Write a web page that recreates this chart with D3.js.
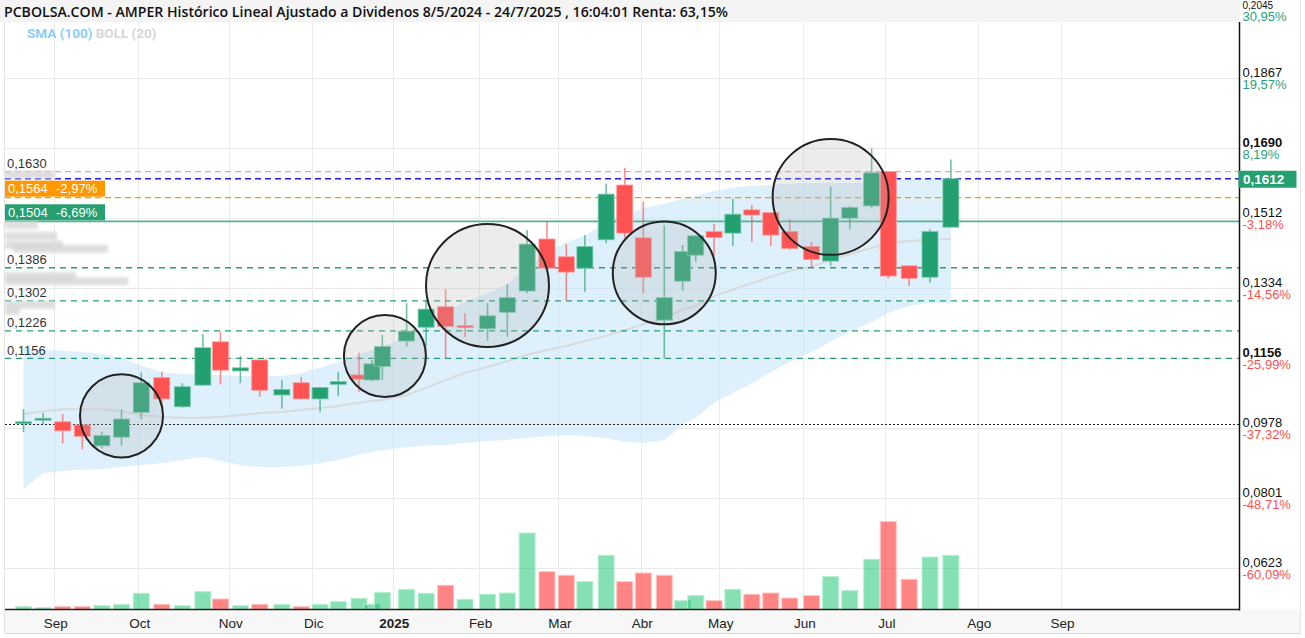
<!DOCTYPE html>
<html><head><meta charset="utf-8">
<script src="https://cdn.jsdelivr.net/npm/d3@7"></script>
<style>body{margin:0;background:#fff}svg{display:block}</style>
</head><body>
<svg id="c" width="1305" height="638"></svg>
<script>
// ---------------- DATA ----------------
const dates = ["2024-08-21","2024-08-28","2024-09-04","2024-09-11","2024-09-18","2024-09-25","2024-10-02","2024-10-09","2024-10-16","2024-10-23","2024-10-29","2024-11-05","2024-11-12","2024-11-20","2024-11-27","2024-12-04","2024-12-11","2024-12-19","2024-12-24","2024-12-28","2025-01-06","2025-01-13","2025-01-20","2025-01-27","2025-02-04","2025-02-11","2025-02-18","2025-02-25","2025-03-04","2025-03-11","2025-03-19","2025-03-26","2025-04-02","2025-04-10","2025-04-17","2025-04-22","2025-04-29","2025-05-06","2025-05-13","2025-05-20","2025-05-27","2025-06-04","2025-06-11","2025-06-18","2025-06-26","2025-07-02","2025-07-09","2025-07-16","2025-07-23"];
const open  = [0.0991,0.1002,0.0995,0.0987,0.0934,0.0956,0.1019,0.1107,0.1033,0.1088,0.1198,0.1124,0.1152,0.1063,0.1094,0.1053,0.1090,0.1114,0.1101,0.1135,0.1200,0.1235,0.1287,0.1239,0.1231,0.1273,0.1327,0.1459,0.1414,0.1385,0.1457,0.1596,0.1462,0.1253,0.1352,0.1418,0.1478,0.1474,0.1533,0.1526,0.1478,0.1440,0.1403,0.1512,0.1543,0.1630,0.1391,0.1362,0.1489];
const high  = [0.1027,0.1018,0.1014,0.0988,0.0970,0.1027,0.1120,0.1122,0.1093,0.1218,0.1224,0.1162,0.1152,0.1101,0.1109,0.1082,0.1122,0.1170,0.1152,0.1215,0.1296,0.1304,0.1331,0.1270,0.1296,0.1344,0.1482,0.1503,0.1446,0.1469,0.1600,0.1639,0.1554,0.1493,0.1444,0.1468,0.1497,0.1561,0.1545,0.1526,0.1509,0.1452,0.1592,0.1543,0.1689,0.1630,0.1391,0.1484,0.1661];
const low   = [0.0969,0.0989,0.0940,0.0925,0.0928,0.0934,0.1001,0.1025,0.1031,0.1086,0.1090,0.1093,0.1059,0.1029,0.1052,0.1019,0.1060,0.1071,0.1098,0.1101,0.1186,0.1187,0.1156,0.1210,0.1201,0.1211,0.1321,0.1383,0.1303,0.1325,0.1448,0.1461,0.1321,0.1156,0.1327,0.1401,0.1414,0.1441,0.1452,0.1441,0.1431,0.1386,0.1391,0.1484,0.1537,0.1359,0.1340,0.1348,0.1488];
const close = [0.0995,0.1004,0.0972,0.0958,0.0960,0.1002,0.1094,0.1053,0.1084,0.1183,0.1126,0.1132,0.1075,0.1077,0.1053,0.1082,0.1097,0.1103,0.1142,0.1186,0.1225,0.1281,0.1237,0.1238,0.1264,0.1310,0.1446,0.1385,0.1375,0.1440,0.1573,0.1474,0.1362,0.1310,0.1427,0.1467,0.1463,0.1522,0.1520,0.1469,0.1435,0.1407,0.1512,0.1539,0.1627,0.1365,0.1359,0.1478,0.1612];
// weekly volume (millions of shares, estimated)
const volume = [2.7,1.7,2.7,2.7,3.7,5,16,5,3.7,17.7,10.3,3.7,5,5,2.7,5,7.7,11,5,17,20,16,24,10,15,16.3,76.3,37.7,34,27.7,54,27.7,36.3,34,8.7,13.7,8.7,20,15,16.3,11.3,13.7,32.7,18.7,50,87.7,30,52.3,54];
const bollUpper = [0.1182,0.1177,0.1175,0.1172,0.1167,0.1157,0.1137,0.1121,0.1116,0.1114,0.1114,0.1111,0.1111,0.1111,0.1119,0.1132,0.1147,0.1165,0.1177,0.1187,0.1210,0.1241,0.1274,0.1299,0.1322,0.1345,0.1385,0.1426,0.1451,0.1467,0.1502,0.1523,0.1538,0.1548,0.1561,0.1568,0.1581,0.1589,0.1594,0.1596,0.1599,0.1601,0.1601,0.1601,0.1604,0.1609,0.1611,0.1614,0.1614];
const bollMid   = [0.1015,0.1022,0.1027,0.1027,0.1027,0.1022,0.1012,0.1007,0.1005,0.1005,0.1007,0.1012,0.1017,0.1020,0.1025,0.1030,0.1035,0.1043,0.1048,0.1050,0.1063,0.1081,0.1101,0.1119,0.1134,0.1149,0.1165,0.1177,0.1187,0.1200,0.1213,0.1228,0.1243,0.1259,0.1279,0.1289,0.1314,0.1330,0.1347,0.1363,0.1378,0.1388,0.1406,0.1421,0.1436,0.1449,0.1454,0.1457,0.1459];
const bollLower = [0.0824,0.0865,0.0870,0.0873,0.0875,0.0880,0.0885,0.0890,0.0898,0.0906,0.0895,0.0885,0.0880,0.0880,0.0883,0.0890,0.0898,0.0911,0.0918,0.0923,0.0931,0.0934,0.0936,0.0941,0.0946,0.0949,0.0954,0.0959,0.0961,0.0959,0.0954,0.0944,0.0941,0.0949,0.0987,0.1005,0.1043,0.1068,0.1093,0.1121,0.1147,0.1172,0.1198,0.1223,0.1248,0.1271,0.1289,0.1297,0.1297];

const priceTicks = [0.2045,0.1867,0.1690,0.1512,0.1334,0.1156,0.0978,0.0801,0.0623];
const pctLabels  = ["30,95%","19,57%","8,19%","-3,18%","-14,56%","-25,99%","-37,32%","-48,71%","-60,09%"];
const monthTicks  = ["2024-09-01","2024-10-01","2024-11-01","2024-12-01","2025-01-01","2025-02-01","2025-03-01","2025-04-01","2025-05-01","2025-06-01","2025-07-01","2025-08-01","2025-09-01"];
const monthLabels = ["Sep","Oct","Nov","Dic","2025","Feb","Mar","Abr","May","Jun","Jul","Ago","Sep"];

const maxLevel = 0.1630;
const orangeLevel = 0.1564;
const greenLevel = 0.1504;
const supportLevels = [0.1386,0.1302,0.1226,0.1156];
const baseLevel = 0.0988;   // start price for "Renta: 63,15%"
const hiddenLabelPrices = [0.1622,0.1495,0.1467,0.1444,0.1434,0.1365,0.1352,0.1292,0.1276];

const circleDates  = ["2024-09-25","2024-12-29","2025-02-04","2025-04-10","2025-06-11"];
const circlePrices = [0.1010,0.1162,0.1341,0.1373,0.1566];
const circleSpans  = [0.01054,0.01041,0.01561,0.01307,0.01472];

const titleText = "PCBOLSA.COM - AMPER Histórico Lineal Ajustado a Dividenos 8/5/2024 - 24/7/2025 , 16:04:01 Renta: 63,15%";

// ---------------- LAYOUT ----------------
const PL = 5, PR = 1239.5, PT = 22, PB = 609.5;
const parse = d3.timeParse("%Y-%m-%d");
const anchorDates = ["2024-08-01", ...monthTicks, "2025-10-01"].map(parse);
const anchorPx = [-32.5,54.3,138.3,229.3,312.3,392.7,479,558.3,640.7,719.3,803.3,885.3,977.7,1061,1144];
const x = d3.scaleTime().domain(anchorDates).range(anchorPx);
const y = d3.scaleLinear().domain([0.0623,0.1867]).range([568.3,78.3]);
const yv = d3.scaleLinear().domain([0,100]).range([609.3,509.3]);
const fmt = v => d3.format(".4f")(v).replace(".", ",");
const GREEN = "#23a071", RED = "#ff5252";
const FONT = "'Liberation Sans', Arial, sans-serif";

const data = dates.map((d,i)=>({date:parse(d),o:open[i],h:high[i],l:low[i],c:close[i],v:volume[i],
  up:close[i]>=open[i], vup: i===0 ? close[i]>=open[i] : close[i]>=close[i-1],
  bu:bollUpper[i],bm:bollMid[i],bl:bollLower[i]}));
const last = close[close.length-1];

const svg = d3.select("#c");
const defs = svg.append("defs");
defs.append("clipPath").attr("id","plot").append("rect")
  .attr("x",PL).attr("y",PT).attr("width",PR-PL).attr("height",PB-PT);
defs.append("filter").attr("id","blur").append("feGaussianBlur").attr("stdDeviation",1.6);

// backgrounds
svg.append("rect").attr("width",1305).attr("height",638).attr("fill","#fff");
svg.append("rect").attr("x",0).attr("y",0).attr("width",PR).attr("height",PT).attr("fill","#f4f4f4");
svg.append("rect").attr("x",PL).attr("y",PB).attr("width",1300-PL).attr("height",24).attr("fill","#f7f7f7");
svg.append("line").attr("x1",PL).attr("x2",1300).attr("y1",633.5).attr("y2",633.5).attr("stroke","#dcdcdc");
svg.append("line").attr("x1",1300.5).attr("x2",1300.5).attr("y1",0).attr("y2",634).attr("stroke","#e6e6e6");
svg.append("line").attr("x1",PL-0.5).attr("x2",PL-0.5).attr("y1",PT).attr("y2",634).attr("stroke","#e3e3e3");

const plot = svg.append("g").attr("clip-path","url(#plot)");

// grid
plot.selectAll("line.hg").data(priceTicks).join("line").attr("class","hg")
  .attr("x1",PL).attr("x2",PR).attr("y1",d=>Math.round(y(d))+0.5).attr("y2",d=>Math.round(y(d))+0.5)
  .attr("stroke","#e9e9e9");
plot.selectAll("line.vg").data(monthTicks).join("line").attr("class","vg")
  .attr("x1",d=>Math.round(x(parse(d)))+0.5).attr("x2",d=>Math.round(x(parse(d)))+0.5)
  .attr("y1",PT).attr("y2",PB).attr("stroke","#ebebeb");

// bollinger band
plot.append("path").datum(data)
  .attr("d", d3.area().x(d=>x(d.date)).y0(d=>y(d.bl)).y1(d=>y(d.bu)))
  .attr("fill","#c9e7fa").attr("fill-opacity",0.62);
plot.append("path").datum(data)
  .attr("d", d3.line().x(d=>x(d.date)).y(d=>y(d.bm)))
  .attr("fill","none").attr("stroke","#d6d6d6").attr("stroke-width",2).attr("stroke-opacity",0.8);

// volume
plot.selectAll("rect.vol").data(data).join("rect").attr("class","vol")
  .attr("x",d=>x(d.date)-8).attr("width",16)
  .attr("y",d=>yv(d.v)).attr("height",d=>yv(0)-yv(d.v))
  .attr("fill",d=>d.vup?"#00c060":"#ff0000").attr("fill-opacity",0.48)
  .attr("stroke",d=>d.vup?"#b8f0d4":"#ffc4c4").attr("stroke-width",1);

// level lines
const hline = (v,color,dash,w)=>plot.append("line").attr("x1",PL).attr("x2",PR)
  .attr("y1",y(v)).attr("y2",y(v)).attr("stroke",color).attr("stroke-width",w)
  .attr("stroke-dasharray",dash);
hline(maxLevel,"#ff9c9c","6,4",1.3);
hline(last,"#1a1aff","6,4",1.3);
hline(orangeLevel,"#ff9800","6,4",1.4);
hline(greenLevel,"#52b48f",null,1.8);
supportLevels.forEach(v=>hline(v,"#2a9d74","6,5",1.3));
hline(baseLevel,"#222","2,2",1.1);

// candles
const cg = plot.selectAll("g.candle").data(data).join("g").attr("class","candle");
cg.append("line").attr("x1",d=>x(d.date)).attr("x2",d=>x(d.date))
  .attr("y1",d=>y(d.h)).attr("y2",d=>y(d.l))
  .attr("stroke",d=>d.up?GREEN:RED).attr("stroke-width",1.6).attr("stroke-opacity",0.65);
cg.append("rect").attr("x",d=>x(d.date)-8).attr("width",16)
  .attr("y",d=>y(Math.max(d.o,d.c)))
  .attr("height",d=>Math.max(2,Math.abs(y(d.o)-y(d.c))))
  .attr("fill",d=>d.up?GREEN:RED)
  .attr("stroke",d=>d.up?"#7cc9ad":"#ff9a9a").attr("stroke-width",0.8);

// pattern circles
plot.selectAll("circle.ann").data(circleDates).join("circle").attr("class","ann")
  .attr("cx",(d,i)=>x(parse(d))).attr("cy",(d,i)=>y(circlePrices[i]))
  .attr("r",(d,i)=>y(circlePrices[i]-circleSpans[i])-y(circlePrices[i]))
  .attr("fill","#b4b4b4").attr("fill-opacity",0.25)
  .attr("stroke","#222").attr("stroke-width",2);

// blurred hidden labels on the left
const hw = [50,33,52,58,95,71,123,50,15];
svg.append("g").attr("filter","url(#blur)").selectAll("rect").data(hiddenLabelPrices).join("rect")
  .attr("x",(d,i)=>i===4?13:5).attr("y",d=>y(d)-4).attr("width",(d,i)=>hw[i]).attr("height",8)
  .attr("fill","#d6d6d6").attr("fill-opacity",0.8);

// left labels
const leftVals = [maxLevel, ...supportLevels];
svg.selectAll("text.ll").data(leftVals).join("text").attr("class","ll")
  .attr("x",7).attr("y",d=>y(d)-3.5).text(fmt)
  .attr("font-family",FONT).attr("font-size",13).attr("fill","#333");
const pctTrunc = v => (Math.trunc((v/last-1)*10000)/100).toFixed(2).replace(".",",")+"%";
[[orangeLevel,"#ff9800"],[greenLevel,"#26a071"]].forEach(([v,col])=>{
  const yb = y(v);
  svg.append("rect").attr("x",5).attr("y",yb-17).attr("width",100).attr("height",16).attr("fill",col);
  svg.append("text").attr("x",8).attr("y",yb-4.5).text(fmt(v))
    .attr("font-family",FONT).attr("font-size",13).attr("fill","#fff");
  svg.append("text").attr("x",56).attr("y",yb-4.5).text(pctTrunc(v))
    .attr("font-family",FONT).attr("font-size",13).attr("fill","#fff");
});

// axes lines
svg.append("line").attr("x1",PR).attr("x2",PR).attr("y1",PT).attr("y2",PB+1).attr("stroke","#111").attr("stroke-width",1.5);
svg.append("line").attr("x1",PL).attr("x2",PR).attr("y1",PB).attr("y2",PB).attr("stroke","#222").attr("stroke-width",1.5);

// right axis
const topTick = priceTicks[0];
const ya = svg.append("g").attr("transform",`translate(${PR},0)`)
  .call(d3.axisRight(y).tickValues(priceTicks).tickSize(0).tickPadding(3).tickFormat(fmt));
ya.select(".domain").remove();
ya.selectAll(".tick text").attr("dy",d=>d===topTick?0:-2).attr("font-family",FONT)
  .attr("font-size",d=>d===topTick?10:13)
  .attr("fill","#111").attr("font-weight",d=>(d===0.1690||d===0.1156)?"bold":"normal");
ya.selectAll(".tick").append("text").attr("x",3).attr("dy",d=>d===topTick?12.5:10.5)
  .text((d,i)=>pctLabels[i]).attr("font-family",FONT).attr("font-size",13)
  .attr("fill",d=>d>last*0.97?"#27a27a":"#ff5050").attr("text-anchor","start");
ya.selectAll(".tick text").attr("text-anchor","start");

// last price tag
svg.append("rect").attr("x",PR-1).attr("y",y(last)-8).attr("width",58).attr("height",17).attr("fill","#26a071");
svg.append("text").attr("x",PR+3.5).attr("y",y(last)+5).text(fmt(last))
  .attr("font-family",FONT).attr("font-size",13.5).attr("font-weight","bold").attr("fill","#fff");

// bottom axis
const xa = svg.append("g").attr("transform",`translate(1,${PB})`)
  .call(d3.axisBottom(x).tickValues(monthTicks.map(parse)).tickSize(0).tickPadding(9)
    .tickFormat((d,i)=>monthLabels[i]));
xa.select(".domain").remove();
xa.selectAll(".tick text").attr("font-family",FONT).attr("font-size",13.5).attr("fill","#222")
  .attr("font-weight",(d,i)=>monthLabels[i]==="2025"?"bold":"normal");

// title & legend
svg.append("text").attr("x",4).attr("y",17).text(titleText)
  .attr("font-family","'Open Sans', sans-serif").attr("font-weight",600).attr("font-size",13.5)
  .attr("fill","#111").attr("textLength",724).attr("lengthAdjust","spacingAndGlyphs");
const lg = svg.append("text").attr("x",27).attr("y",38).attr("font-family","Roboto, sans-serif")
  .attr("font-weight","bold").attr("font-size",13.5);
lg.append("tspan").text("SMA (100)").attr("fill","#8ecdf9");
lg.append("tspan").text(" BOLL (20)").attr("fill","#d6d6d6");
</script>
</body></html>
